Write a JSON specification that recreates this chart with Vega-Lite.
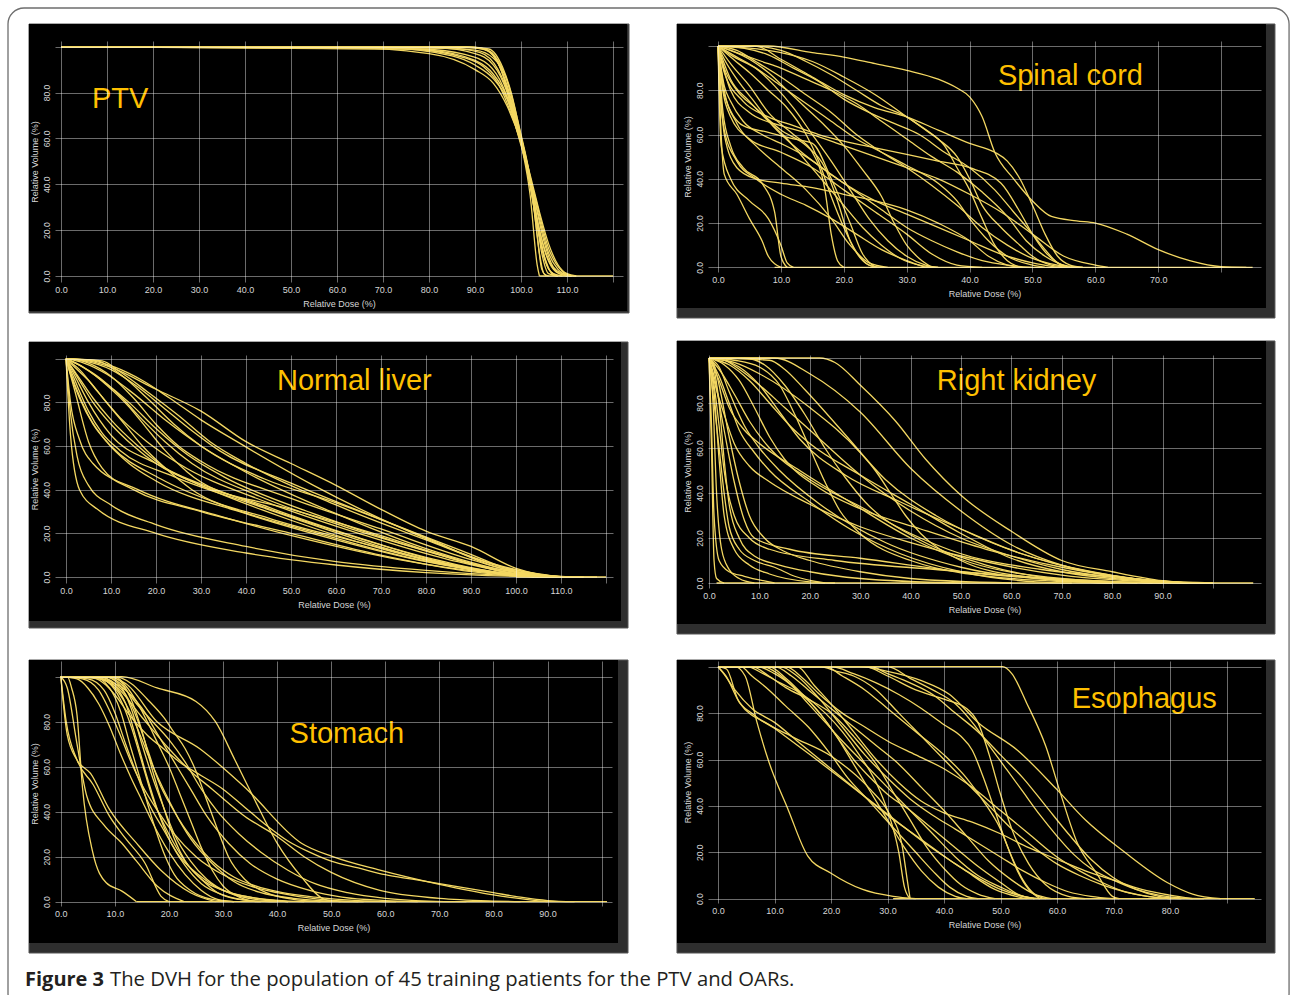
{
"$schema":"https://vega.github.io/schema/vega-lite/v6.json",
"background":"white",
"padding":{"left":7,"top":7,"right":0,"bottom":0},
"autosize":{"type":"pad"},
"columns":2,
"align":"each",
"bounds":"flush",
"spacing":{"row":73,"column":85},
"config":{
"view":{"stroke":null},
"axis":{"domain":false,"ticks":false,"grid":true,"gridColor":"#ffffff","gridOpacity":0.42,"gridWidth":1,"labelColor":"#d6d6d6","labelFont":"Liberation Sans","labelFontSize":9,"titleColor":"#d6d6d6","titleFont":"Liberation Sans","titleFontSize":9,"titleFontWeight":"normal","labelOverlap":false,"labelFlush":false,"labelBound":false},
"axisX":{"labelPadding":3,"titlePadding":5},
"axisY":{"labelAngle":270,"labelAlign":"center","labelBaseline":"bottom","labelPadding":4,"titlePadding":3,"labelFontSize":8.5},
"line":{"interpolate":"monotone","color":"#f4d862","strokeWidth":1.3}
},
"datasets":{
"one":[{}],
"ptv":[
{"c":0,"x":104,"y":0},{"c":0,"x":120,"y":0},
{"c":1,"x":0,"y":100},{"c":1,"x":60,"y":100},{"c":1,"x":80,"y":99.5},{"c":1,"x":90,"y":98.5},{"c":1,"x":94,"y":95},{"c":1,"x":97,"y":85},{"c":1,"x":100,"y":58},{"c":1,"x":102,"y":35},{"c":1,"x":103.5,"y":5},{"c":1,"x":104,"y":0},
{"c":2,"x":0,"y":100},{"c":2,"x":60,"y":99.8},{"c":2,"x":80,"y":97},{"c":2,"x":90,"y":90},{"c":2,"x":94,"y":84},{"c":2,"x":97,"y":74},{"c":2,"x":100,"y":58},{"c":2,"x":102.5,"y":38},{"c":2,"x":104.5,"y":10},{"c":2,"x":106,"y":1},{"c":2,"x":108,"y":0},
{"c":3,"x":0,"y":100},{"c":3,"x":70,"y":99.5},{"c":3,"x":85,"y":96},{"c":3,"x":90,"y":92},{"c":3,"x":94,"y":86},{"c":3,"x":97,"y":77},{"c":3,"x":100,"y":57},{"c":3,"x":103,"y":35},{"c":3,"x":106,"y":12},{"c":3,"x":109,"y":2},{"c":3,"x":111,"y":0},
{"c":4,"x":0,"y":100},{"c":4,"x":80,"y":99.8},{"c":4,"x":90,"y":99.5},{"c":4,"x":93,"y":98},{"c":4,"x":96,"y":88},{"c":4,"x":98,"y":72},{"c":4,"x":100,"y":58},{"c":4,"x":102,"y":40},{"c":4,"x":104,"y":18},{"c":4,"x":106,"y":3},{"c":4,"x":108,"y":0},
{"c":5,"x":0,"y":100},{"c":5,"x":85,"y":100},{"c":5,"x":91,"y":99.5},{"c":5,"x":94,"y":96},{"c":5,"x":97,"y":82},{"c":5,"x":99,"y":66},{"c":5,"x":101,"y":50},{"c":5,"x":103,"y":28},{"c":5,"x":105,"y":8},{"c":5,"x":107,"y":1},{"c":5,"x":109,"y":0},
{"c":6,"x":0,"y":100},{"c":6,"x":75,"y":99},{"c":6,"x":88,"y":95},{"c":6,"x":92,"y":91},{"c":6,"x":95,"y":84},{"c":6,"x":98,"y":70},{"c":6,"x":100,"y":58},{"c":6,"x":102,"y":42},{"c":6,"x":104,"y":25},{"c":6,"x":106,"y":10},{"c":6,"x":108,"y":3},{"c":6,"x":110,"y":0.5},{"c":6,"x":112,"y":0},
{"c":7,"x":0,"y":100},{"c":7,"x":88,"y":100},{"c":7,"x":92,"y":99},{"c":7,"x":95,"y":93},{"c":7,"x":97,"y":83},{"c":7,"x":99,"y":68},{"c":7,"x":101,"y":52},{"c":7,"x":102.5,"y":35},{"c":7,"x":104,"y":10},{"c":7,"x":105,"y":1},{"c":7,"x":106,"y":0},
{"c":8,"x":0,"y":100},{"c":8,"x":82,"y":99.5},{"c":8,"x":90,"y":97},{"c":8,"x":94,"y":92},{"c":8,"x":97,"y":80},{"c":8,"x":99.5,"y":62},{"c":8,"x":101.5,"y":45},{"c":8,"x":103.5,"y":22},{"c":8,"x":105.5,"y":6},{"c":8,"x":107,"y":0.5},{"c":8,"x":108,"y":0},
{"c":9,"x":0,"y":100},{"c":9,"x":86,"y":99.8},{"c":9,"x":92,"y":99},{"c":9,"x":95,"y":94},{"c":9,"x":97.5,"y":82},{"c":9,"x":99.5,"y":66},{"c":9,"x":101,"y":53},{"c":9,"x":103,"y":33},{"c":9,"x":105,"y":15},{"c":9,"x":107,"y":4},{"c":9,"x":109,"y":1},{"c":9,"x":111,"y":0},
{"c":10,"x":0,"y":100},{"c":10,"x":65,"y":99.8},{"c":10,"x":80,"y":98.5},{"c":10,"x":90,"y":94},{"c":10,"x":94,"y":88},{"c":10,"x":97,"y":78},{"c":10,"x":100,"y":59},{"c":10,"x":102,"y":44},{"c":10,"x":104,"y":28},{"c":10,"x":106,"y":14},{"c":10,"x":108,"y":5},{"c":10,"x":110,"y":1},{"c":10,"x":112,"y":0},
{"c":11,"x":0,"y":100},{"c":11,"x":84,"y":99.5},{"c":11,"x":91,"y":97.5},{"c":11,"x":95,"y":90},{"c":11,"x":98,"y":75},{"c":11,"x":100,"y":59},{"c":11,"x":102,"y":40},{"c":11,"x":104,"y":20},{"c":11,"x":106,"y":7},{"c":11,"x":108,"y":1.5},{"c":11,"x":110,"y":0},
{"c":12,"x":0,"y":100},{"c":12,"x":78,"y":99},{"c":12,"x":88,"y":96.5},{"c":12,"x":93,"y":92},{"c":12,"x":96,"y":83},{"c":12,"x":99,"y":65},{"c":12,"x":101,"y":51},{"c":12,"x":103,"y":30},{"c":12,"x":105,"y":12},{"c":12,"x":107,"y":3},{"c":12,"x":109,"y":0.5},{"c":12,"x":111,"y":0},
{"c":13,"x":0,"y":100},{"c":13,"x":89,"y":99.8},{"c":13,"x":93,"y":99},{"c":13,"x":96,"y":91},{"c":13,"x":98,"y":79},{"c":13,"x":100,"y":61},{"c":13,"x":102,"y":42},{"c":13,"x":103.5,"y":18},{"c":13,"x":104.5,"y":3},{"c":13,"x":105.5,"y":0}
],
"sc":[
{"c":0,"x":9,"y":0},{"c":0,"x":85,"y":0},
{"c":1,"x":0,"y":100},{"c":1,"x":0.5,"y":60},{"c":1,"x":1,"y":42},{"c":1,"x":3,"y":33},{"c":1,"x":5,"y":22},{"c":1,"x":7,"y":12},{"c":1,"x":8,"y":5},{"c":1,"x":10,"y":0},
{"c":2,"x":0,"y":100},{"c":2,"x":0.8,"y":70},{"c":2,"x":2,"y":55},{"c":2,"x":4,"y":45},{"c":2,"x":7,"y":38},{"c":2,"x":9,"y":25},{"c":2,"x":10,"y":5},{"c":2,"x":11,"y":0},
{"c":3,"x":0,"y":100},{"c":3,"x":1,"y":80},{"c":3,"x":3,"y":65},{"c":3,"x":6,"y":55},{"c":3,"x":10,"y":45},{"c":3,"x":14,"y":35},{"c":3,"x":18,"y":22},{"c":3,"x":21,"y":10},{"c":3,"x":24,"y":2},{"c":3,"x":27,"y":0},
{"c":4,"x":0,"y":100},{"c":4,"x":0.5,"y":85},{"c":4,"x":2,"y":68},{"c":4,"x":5,"y":58},{"c":4,"x":10,"y":52},{"c":4,"x":15,"y":45},{"c":4,"x":20,"y":35},{"c":4,"x":25,"y":25},{"c":4,"x":30,"y":15},{"c":4,"x":34,"y":6},{"c":4,"x":38,"y":1},{"c":4,"x":42,"y":0},
{"c":5,"x":0,"y":100},{"c":5,"x":1,"y":90},{"c":5,"x":3,"y":80},{"c":5,"x":6,"y":72},{"c":5,"x":10,"y":62},{"c":5,"x":14,"y":55},{"c":5,"x":17,"y":45},{"c":5,"x":19,"y":30},{"c":5,"x":21,"y":12},{"c":5,"x":23,"y":3},{"c":5,"x":25,"y":0},
{"c":6,"x":0,"y":100},{"c":6,"x":2,"y":92},{"c":6,"x":5,"y":82},{"c":6,"x":8,"y":70},{"c":6,"x":12,"y":60},{"c":6,"x":15,"y":52},{"c":6,"x":17,"y":35},{"c":6,"x":18,"y":15},{"c":6,"x":19,"y":3},{"c":6,"x":20,"y":0},
{"c":7,"x":0,"y":100},{"c":7,"x":2,"y":95},{"c":7,"x":5,"y":88},{"c":7,"x":8,"y":80},{"c":7,"x":11,"y":72},{"c":7,"x":14,"y":60},{"c":7,"x":16,"y":48},{"c":7,"x":18,"y":32},{"c":7,"x":20,"y":18},{"c":7,"x":22,"y":7},{"c":7,"x":24,"y":1},{"c":7,"x":26,"y":0},
{"c":8,"x":0,"y":100},{"c":8,"x":3,"y":98},{"c":8,"x":6,"y":93},{"c":8,"x":10,"y":86},{"c":8,"x":14,"y":78},{"c":8,"x":18,"y":70},{"c":8,"x":22,"y":60},{"c":8,"x":26,"y":52},{"c":8,"x":30,"y":45},{"c":8,"x":34,"y":37},{"c":8,"x":38,"y":28},{"c":8,"x":42,"y":18},{"c":8,"x":46,"y":10},{"c":8,"x":50,"y":4},{"c":8,"x":56,"y":0},
{"c":9,"x":0,"y":100},{"c":9,"x":4,"y":99},{"c":9,"x":8,"y":96},{"c":9,"x":12,"y":90},{"c":9,"x":16,"y":84},{"c":9,"x":20,"y":76},{"c":9,"x":24,"y":70},{"c":9,"x":28,"y":65},{"c":9,"x":32,"y":60},{"c":9,"x":36,"y":52},{"c":9,"x":40,"y":45},{"c":9,"x":44,"y":35},{"c":9,"x":47,"y":25},{"c":9,"x":50,"y":15},{"c":9,"x":52,"y":8},{"c":9,"x":54,"y":2},{"c":9,"x":56,"y":0},
{"c":10,"x":0,"y":100},{"c":10,"x":8,"y":100},{"c":10,"x":15,"y":97},{"c":10,"x":20,"y":95},{"c":10,"x":25,"y":92},{"c":10,"x":30,"y":89},{"c":10,"x":35,"y":85},{"c":10,"x":38,"y":81},{"c":10,"x":40,"y":77},{"c":10,"x":42,"y":68},{"c":10,"x":44,"y":52},{"c":10,"x":47,"y":40},{"c":10,"x":50,"y":30},{"c":10,"x":53,"y":23},{"c":10,"x":57,"y":21},{"c":10,"x":60,"y":20},{"c":10,"x":65,"y":15},{"c":10,"x":70,"y":8},{"c":10,"x":75,"y":3},{"c":10,"x":80,"y":0.3},{"c":10,"x":84,"y":0},
{"c":11,"x":0,"y":100},{"c":11,"x":5,"y":99},{"c":11,"x":10,"y":97},{"c":11,"x":15,"y":93},{"c":11,"x":20,"y":86},{"c":11,"x":25,"y":78},{"c":11,"x":30,"y":68},{"c":11,"x":35,"y":58},{"c":11,"x":38,"y":50},{"c":11,"x":40,"y":40},{"c":11,"x":42,"y":28},{"c":11,"x":45,"y":18},{"c":11,"x":48,"y":10},{"c":11,"x":50,"y":5},{"c":11,"x":53,"y":1},{"c":11,"x":56,"y":0},
{"c":12,"x":0,"y":100},{"c":12,"x":6,"y":100},{"c":12,"x":10,"y":94},{"c":12,"x":15,"y":86},{"c":12,"x":20,"y":78},{"c":12,"x":25,"y":72},{"c":12,"x":30,"y":68},{"c":12,"x":35,"y":62},{"c":12,"x":40,"y":56},{"c":12,"x":44,"y":52},{"c":12,"x":46,"y":48},{"c":12,"x":48,"y":40},{"c":12,"x":50,"y":28},{"c":12,"x":52,"y":15},{"c":12,"x":54,"y":5},{"c":12,"x":56,"y":1},{"c":12,"x":58,"y":0},
{"c":13,"x":0,"y":100},{"c":13,"x":1,"y":88},{"c":13,"x":4,"y":75},{"c":13,"x":8,"y":68},{"c":13,"x":12,"y":64},{"c":13,"x":16,"y":60},{"c":13,"x":20,"y":57},{"c":13,"x":25,"y":54},{"c":13,"x":30,"y":51},{"c":13,"x":35,"y":48},{"c":13,"x":40,"y":45},{"c":13,"x":45,"y":38},{"c":13,"x":48,"y":25},{"c":13,"x":50,"y":15},{"c":13,"x":52,"y":7},{"c":13,"x":54,"y":2},{"c":13,"x":56,"y":0},
{"c":14,"x":0,"y":100},{"c":14,"x":2,"y":80},{"c":14,"x":5,"y":70},{"c":14,"x":10,"y":64},{"c":14,"x":15,"y":60},{"c":14,"x":20,"y":55},{"c":14,"x":25,"y":50},{"c":14,"x":30,"y":45},{"c":14,"x":35,"y":40},{"c":14,"x":40,"y":33},{"c":14,"x":45,"y":25},{"c":14,"x":50,"y":15},{"c":14,"x":55,"y":5},{"c":14,"x":60,"y":1},{"c":14,"x":62,"y":0},
{"c":15,"x":0,"y":100},{"c":15,"x":1,"y":60},{"c":15,"x":3,"y":45},{"c":15,"x":6,"y":40},{"c":15,"x":10,"y":38},{"c":15,"x":15,"y":36},{"c":15,"x":20,"y":33},{"c":15,"x":25,"y":30},{"c":15,"x":30,"y":26},{"c":15,"x":35,"y":20},{"c":15,"x":40,"y":12},{"c":15,"x":43,"y":5},{"c":15,"x":46,"y":1},{"c":15,"x":48,"y":0},
{"c":16,"x":0,"y":100},{"c":16,"x":2,"y":85},{"c":16,"x":5,"y":75},{"c":16,"x":8,"y":66},{"c":16,"x":11,"y":58},{"c":16,"x":14,"y":48},{"c":16,"x":17,"y":38},{"c":16,"x":20,"y":28},{"c":16,"x":23,"y":18},{"c":16,"x":26,"y":10},{"c":16,"x":29,"y":4},{"c":16,"x":32,"y":1},{"c":16,"x":35,"y":0},
{"c":17,"x":0,"y":100},{"c":17,"x":3,"y":95},{"c":17,"x":6,"y":90},{"c":17,"x":9,"y":82},{"c":17,"x":12,"y":72},{"c":17,"x":15,"y":60},{"c":17,"x":18,"y":48},{"c":17,"x":21,"y":35},{"c":17,"x":24,"y":22},{"c":17,"x":27,"y":12},{"c":17,"x":30,"y":5},{"c":17,"x":33,"y":1},{"c":17,"x":35,"y":0},
{"c":18,"x":0,"y":100},{"c":18,"x":5,"y":100},{"c":18,"x":10,"y":98},{"c":18,"x":14,"y":93},{"c":18,"x":18,"y":87},{"c":18,"x":22,"y":80},{"c":18,"x":26,"y":73},{"c":18,"x":30,"y":68},{"c":18,"x":33,"y":62},{"c":18,"x":36,"y":55},{"c":18,"x":38,"y":45},{"c":18,"x":40,"y":35},{"c":18,"x":42,"y":22},{"c":18,"x":44,"y":10},{"c":18,"x":46,"y":3},{"c":18,"x":48,"y":0},
{"c":19,"x":0,"y":100},{"c":19,"x":2,"y":96},{"c":19,"x":6,"y":90},{"c":19,"x":10,"y":82},{"c":19,"x":14,"y":74},{"c":19,"x":18,"y":66},{"c":19,"x":22,"y":58},{"c":19,"x":26,"y":52},{"c":19,"x":30,"y":46},{"c":19,"x":35,"y":38},{"c":19,"x":38,"y":30},{"c":19,"x":40,"y":22},{"c":19,"x":43,"y":12},{"c":19,"x":46,"y":5},{"c":19,"x":50,"y":1},{"c":19,"x":52,"y":0},
{"c":20,"x":0,"y":100},{"c":20,"x":1,"y":94},{"c":20,"x":3,"y":85},{"c":20,"x":6,"y":74},{"c":20,"x":9,"y":63},{"c":20,"x":12,"y":55},{"c":20,"x":16,"y":46},{"c":20,"x":20,"y":38},{"c":20,"x":25,"y":30},{"c":20,"x":30,"y":24},{"c":20,"x":35,"y":18},{"c":20,"x":40,"y":12},{"c":20,"x":45,"y":6},{"c":20,"x":50,"y":2},{"c":20,"x":54,"y":0},
{"c":21,"x":0,"y":100},{"c":21,"x":2,"y":98},{"c":21,"x":5,"y":94},{"c":21,"x":8,"y":88},{"c":21,"x":11,"y":80},{"c":21,"x":14,"y":72},{"c":21,"x":17,"y":64},{"c":21,"x":20,"y":55},{"c":21,"x":23,"y":44},{"c":21,"x":26,"y":32},{"c":21,"x":28,"y":20},{"c":21,"x":30,"y":10},{"c":21,"x":32,"y":4},{"c":21,"x":34,"y":0},
{"c":22,"x":0,"y":100},{"c":22,"x":1,"y":78},{"c":22,"x":4,"y":64},{"c":22,"x":8,"y":61},{"c":22,"x":12,"y":58},{"c":22,"x":15,"y":56},{"c":22,"x":18,"y":40},{"c":22,"x":21,"y":20},{"c":22,"x":23,"y":6},{"c":22,"x":25,"y":0},
{"c":23,"x":0,"y":100},{"c":23,"x":3,"y":97},{"c":23,"x":7,"y":93},{"c":23,"x":10,"y":90},{"c":23,"x":14,"y":85},{"c":23,"x":18,"y":80},{"c":23,"x":22,"y":74},{"c":23,"x":26,"y":66},{"c":23,"x":30,"y":58},{"c":23,"x":34,"y":50},{"c":23,"x":38,"y":43},{"c":23,"x":42,"y":34},{"c":23,"x":46,"y":23},{"c":23,"x":49,"y":12},{"c":23,"x":52,"y":5},{"c":23,"x":55,"y":1},{"c":23,"x":58,"y":0},
{"c":24,"x":0,"y":100},{"c":24,"x":1,"y":82},{"c":24,"x":2,"y":75},{"c":24,"x":4,"y":66},{"c":24,"x":7,"y":60},{"c":24,"x":10,"y":56},{"c":24,"x":14,"y":50},{"c":24,"x":18,"y":42},{"c":24,"x":22,"y":34},{"c":24,"x":26,"y":26},{"c":24,"x":30,"y":18},{"c":24,"x":34,"y":12},{"c":24,"x":38,"y":7},{"c":24,"x":42,"y":3},{"c":24,"x":46,"y":1},{"c":24,"x":50,"y":0},
{"c":25,"x":0,"y":100},{"c":25,"x":0.5,"y":55},{"c":25,"x":2,"y":40},{"c":25,"x":5,"y":30},{"c":25,"x":8,"y":22},{"c":25,"x":10,"y":10},{"c":25,"x":11,"y":2},{"c":25,"x":12,"y":0},
{"c":26,"x":0,"y":100},{"c":26,"x":0.3,"y":80},{"c":26,"x":1,"y":62},{"c":26,"x":3,"y":48},{"c":26,"x":6,"y":40},{"c":26,"x":10,"y":33},{"c":26,"x":14,"y":28},{"c":26,"x":18,"y":22},{"c":26,"x":22,"y":15},{"c":26,"x":26,"y":8},{"c":26,"x":30,"y":3},{"c":26,"x":33,"y":0}
],
"lv":[
{"c":0,"x":100,"y":0},{"c":0,"x":120,"y":0},
{"c":1,"x":0,"y":100},{"c":1,"x":1,"y":65},{"c":1,"x":3,"y":40},{"c":1,"x":7,"y":31},{"c":1,"x":20,"y":20},{"c":1,"x":40,"y":11},{"c":1,"x":60,"y":5.5},{"c":1,"x":80,"y":2},{"c":1,"x":100,"y":0.3},{"c":1,"x":110,"y":0},
{"c":2,"x":0,"y":100},{"c":2,"x":1,"y":75},{"c":2,"x":2.5,"y":55},{"c":2,"x":5,"y":42},{"c":2,"x":10,"y":33},{"c":2,"x":20,"y":24},{"c":2,"x":40,"y":14},{"c":2,"x":60,"y":7},{"c":2,"x":80,"y":3},{"c":2,"x":100,"y":0.5},{"c":2,"x":110,"y":0},
{"c":3,"x":0,"y":100},{"c":3,"x":2,"y":85},{"c":3,"x":5,"y":62},{"c":3,"x":8,"y":50},{"c":3,"x":15,"y":40},{"c":3,"x":30,"y":30},{"c":3,"x":50,"y":20},{"c":3,"x":70,"y":10},{"c":3,"x":90,"y":2.5},{"c":3,"x":105,"y":0.2},{"c":3,"x":115,"y":0},
{"c":4,"x":0,"y":100},{"c":4,"x":2,"y":92},{"c":4,"x":5,"y":80},{"c":4,"x":10,"y":65},{"c":4,"x":20,"y":52},{"c":4,"x":40,"y":35},{"c":4,"x":60,"y":21},{"c":4,"x":80,"y":9},{"c":4,"x":100,"y":1},{"c":4,"x":110,"y":0},
{"c":5,"x":0,"y":100},{"c":5,"x":3,"y":95},{"c":5,"x":7,"y":85},{"c":5,"x":12,"y":73},{"c":5,"x":18,"y":62},{"c":5,"x":25,"y":52},{"c":5,"x":45,"y":34},{"c":5,"x":65,"y":20},{"c":5,"x":85,"y":8},{"c":5,"x":105,"y":0.5},{"c":5,"x":115,"y":0},
{"c":6,"x":0,"y":100},{"c":6,"x":5,"y":99},{"c":6,"x":10,"y":96},{"c":6,"x":20,"y":86},{"c":6,"x":30,"y":76},{"c":6,"x":40,"y":62},{"c":6,"x":50,"y":52},{"c":6,"x":60,"y":42},{"c":6,"x":70,"y":31},{"c":6,"x":80,"y":21},{"c":6,"x":90,"y":14},{"c":6,"x":100,"y":4},{"c":6,"x":110,"y":0.2},{"c":6,"x":118,"y":0},
{"c":7,"x":0,"y":100},{"c":7,"x":4,"y":98},{"c":7,"x":9,"y":93},{"c":7,"x":15,"y":84},{"c":7,"x":22,"y":72},{"c":7,"x":30,"y":60},{"c":7,"x":40,"y":48},{"c":7,"x":60,"y":29},{"c":7,"x":80,"y":13},{"c":7,"x":100,"y":2},{"c":7,"x":108,"y":0},
{"c":8,"x":0,"y":100},{"c":8,"x":3,"y":97},{"c":8,"x":8,"y":90},{"c":8,"x":14,"y":80},{"c":8,"x":20,"y":68},{"c":8,"x":27,"y":56},{"c":8,"x":35,"y":46},{"c":8,"x":55,"y":29},{"c":8,"x":75,"y":15},{"c":8,"x":95,"y":4},{"c":8,"x":110,"y":0},
{"c":9,"x":0,"y":100},{"c":9,"x":2,"y":94},{"c":9,"x":6,"y":82},{"c":9,"x":10,"y":72},{"c":9,"x":16,"y":60},{"c":9,"x":22,"y":50},{"c":9,"x":30,"y":42},{"c":9,"x":50,"y":26},{"c":9,"x":70,"y":13},{"c":9,"x":90,"y":3.5},{"c":9,"x":105,"y":0},
{"c":10,"x":0,"y":100},{"c":10,"x":5,"y":98},{"c":10,"x":10,"y":92},{"c":10,"x":15,"y":82},{"c":10,"x":20,"y":70},{"c":10,"x":25,"y":60},{"c":10,"x":30,"y":53},{"c":10,"x":50,"y":36},{"c":10,"x":70,"y":22},{"c":10,"x":90,"y":8},{"c":10,"x":105,"y":0.5},{"c":10,"x":112,"y":0},
{"c":11,"x":0,"y":100},{"c":11,"x":8,"y":99},{"c":11,"x":12,"y":94},{"c":11,"x":18,"y":85},{"c":11,"x":25,"y":74},{"c":11,"x":32,"y":62},{"c":11,"x":40,"y":52},{"c":11,"x":60,"y":33},{"c":11,"x":80,"y":17},{"c":11,"x":98,"y":4},{"c":11,"x":110,"y":0},
{"c":12,"x":0,"y":100},{"c":12,"x":3,"y":90},{"c":12,"x":6,"y":80},{"c":12,"x":10,"y":70},{"c":12,"x":15,"y":60},{"c":12,"x":20,"y":52},{"c":12,"x":30,"y":42},{"c":12,"x":50,"y":31},{"c":12,"x":70,"y":19},{"c":12,"x":90,"y":6},{"c":12,"x":104,"y":0.3},{"c":12,"x":110,"y":0},
{"c":13,"x":0,"y":100},{"c":13,"x":2,"y":88},{"c":13,"x":5,"y":74},{"c":13,"x":9,"y":62},{"c":13,"x":14,"y":52},{"c":13,"x":20,"y":44},{"c":13,"x":40,"y":29},{"c":13,"x":60,"y":17},{"c":13,"x":80,"y":7},{"c":13,"x":98,"y":1},{"c":13,"x":104,"y":0},
{"c":14,"x":0,"y":100},{"c":14,"x":4,"y":96},{"c":14,"x":9,"y":88},{"c":14,"x":14,"y":78},{"c":14,"x":18,"y":68},{"c":14,"x":22,"y":58},{"c":14,"x":27,"y":48},{"c":14,"x":45,"y":32},{"c":14,"x":65,"y":18},{"c":14,"x":85,"y":6},{"c":14,"x":103,"y":0.3},{"c":14,"x":108,"y":0},
{"c":15,"x":0,"y":100},{"c":15,"x":6,"y":99},{"c":15,"x":11,"y":96},{"c":15,"x":17,"y":90},{"c":15,"x":23,"y":82},{"c":15,"x":30,"y":72},{"c":15,"x":38,"y":62},{"c":15,"x":55,"y":42},{"c":15,"x":75,"y":22},{"c":15,"x":95,"y":6},{"c":15,"x":108,"y":0.5},{"c":15,"x":115,"y":0},
{"c":16,"x":0,"y":100},{"c":16,"x":2,"y":90},{"c":16,"x":5,"y":76},{"c":16,"x":8,"y":66},{"c":16,"x":12,"y":58},{"c":16,"x":24,"y":46},{"c":16,"x":42,"y":33},{"c":16,"x":62,"y":19},{"c":16,"x":82,"y":7},{"c":16,"x":100,"y":1},{"c":16,"x":108,"y":0},
{"c":17,"x":0,"y":100},{"c":17,"x":3,"y":97},{"c":17,"x":7,"y":92},{"c":17,"x":12,"y":83},{"c":17,"x":17,"y":72},{"c":17,"x":22,"y":62},{"c":17,"x":28,"y":52},{"c":17,"x":43,"y":37},{"c":17,"x":62,"y":23},{"c":17,"x":82,"y":11},{"c":17,"x":100,"y":1.5},{"c":17,"x":112,"y":0},
{"c":18,"x":0,"y":100},{"c":18,"x":7,"y":99},{"c":18,"x":12,"y":93},{"c":18,"x":18,"y":82},{"c":18,"x":24,"y":70},{"c":18,"x":30,"y":60},{"c":18,"x":44,"y":45},{"c":18,"x":60,"y":34},{"c":18,"x":80,"y":18},{"c":18,"x":95,"y":5},{"c":18,"x":108,"y":0},
{"c":19,"x":0,"y":100},{"c":19,"x":1,"y":80},{"c":19,"x":3,"y":63},{"c":19,"x":6,"y":52},{"c":19,"x":16,"y":40},{"c":19,"x":34,"y":28},{"c":19,"x":54,"y":17},{"c":19,"x":74,"y":8},{"c":19,"x":94,"y":2},{"c":19,"x":110,"y":0},
{"c":20,"x":0,"y":100},{"c":20,"x":2,"y":96},{"c":20,"x":5,"y":90},{"c":20,"x":9,"y":80},{"c":20,"x":13,"y":70},{"c":20,"x":17,"y":60},{"c":20,"x":22,"y":50},{"c":20,"x":28,"y":40},{"c":20,"x":45,"y":27},{"c":20,"x":65,"y":16},{"c":20,"x":85,"y":6},{"c":20,"x":103,"y":0.5},{"c":20,"x":110,"y":0},
{"c":21,"x":0,"y":100},{"c":21,"x":4,"y":99},{"c":21,"x":10,"y":95},{"c":21,"x":16,"y":87},{"c":21,"x":22,"y":77},{"c":21,"x":28,"y":67},{"c":21,"x":34,"y":58},{"c":21,"x":50,"y":43},{"c":21,"x":68,"y":28},{"c":21,"x":88,"y":12},{"c":21,"x":102,"y":1.5},{"c":21,"x":110,"y":0},
{"c":22,"x":0,"y":100},{"c":22,"x":1,"y":93},{"c":22,"x":3,"y":82},{"c":22,"x":6,"y":70},{"c":22,"x":10,"y":60},{"c":22,"x":21,"y":45},{"c":22,"x":36,"y":32},{"c":22,"x":56,"y":20},{"c":22,"x":76,"y":9},{"c":22,"x":96,"y":2},{"c":22,"x":112,"y":0}
],
"rk":[
{"c":0,"x":1.5,"y":0},{"c":0,"x":108,"y":0},
{"c":1,"x":0,"y":100},{"c":1,"x":0.5,"y":60},{"c":1,"x":1,"y":10},{"c":1,"x":1.5,"y":2},{"c":1,"x":3,"y":0},
{"c":2,"x":0,"y":100},{"c":2,"x":0.8,"y":80},{"c":2,"x":1.5,"y":40},{"c":2,"x":2.5,"y":15},{"c":2,"x":4,"y":6},{"c":2,"x":6,"y":2},{"c":2,"x":9,"y":0},
{"c":3,"x":0,"y":100},{"c":3,"x":1,"y":85},{"c":3,"x":2,"y":55},{"c":3,"x":3,"y":30},{"c":3,"x":5,"y":15},{"c":3,"x":8,"y":8},{"c":3,"x":12,"y":4},{"c":3,"x":20,"y":0.5},{"c":3,"x":25,"y":0},
{"c":4,"x":0,"y":100},{"c":4,"x":1,"y":95},{"c":4,"x":2,"y":80},{"c":4,"x":3,"y":55},{"c":4,"x":4,"y":35},{"c":4,"x":6,"y":20},{"c":4,"x":9,"y":12},{"c":4,"x":14,"y":8},{"c":4,"x":20,"y":5},{"c":4,"x":30,"y":2},{"c":4,"x":50,"y":0},
{"c":5,"x":0,"y":100},{"c":5,"x":1,"y":97},{"c":5,"x":2,"y":88},{"c":5,"x":4,"y":65},{"c":5,"x":6,"y":45},{"c":5,"x":8,"y":30},{"c":5,"x":11,"y":20},{"c":5,"x":15,"y":14},{"c":5,"x":20,"y":10},{"c":5,"x":30,"y":5},{"c":5,"x":40,"y":2},{"c":5,"x":60,"y":0},
{"c":6,"x":0,"y":100},{"c":6,"x":2,"y":96},{"c":6,"x":4,"y":85},{"c":6,"x":7,"y":70},{"c":6,"x":10,"y":60},{"c":6,"x":14,"y":50},{"c":6,"x":22,"y":35},{"c":6,"x":35,"y":18},{"c":6,"x":50,"y":7},{"c":6,"x":70,"y":1},{"c":6,"x":80,"y":0},
{"c":7,"x":0,"y":100},{"c":7,"x":13,"y":100},{"c":7,"x":20,"y":93},{"c":7,"x":30,"y":76},{"c":7,"x":40,"y":51},{"c":7,"x":50,"y":32},{"c":7,"x":60,"y":17},{"c":7,"x":70,"y":8},{"c":7,"x":80,"y":3.4},{"c":7,"x":90,"y":0.7},{"c":7,"x":95,"y":0},
{"c":8,"x":0,"y":100},{"c":8,"x":22,"y":100},{"c":8,"x":25,"y":98},{"c":8,"x":30,"y":88},{"c":8,"x":37,"y":72},{"c":8,"x":43,"y":55},{"c":8,"x":50,"y":39},{"c":8,"x":60,"y":23},{"c":8,"x":70,"y":10},{"c":8,"x":80,"y":5},{"c":8,"x":90,"y":1},{"c":8,"x":95,"y":0},
{"c":9,"x":0,"y":100},{"c":9,"x":3,"y":99},{"c":9,"x":6,"y":95},{"c":9,"x":10,"y":88},{"c":9,"x":15,"y":78},{"c":9,"x":20,"y":68},{"c":9,"x":30,"y":48},{"c":9,"x":40,"y":32},{"c":9,"x":50,"y":20},{"c":9,"x":60,"y":12},{"c":9,"x":70,"y":6},{"c":9,"x":80,"y":2.5},{"c":9,"x":95,"y":0},
{"c":10,"x":0,"y":100},{"c":10,"x":4,"y":97},{"c":10,"x":8,"y":90},{"c":10,"x":12,"y":80},{"c":10,"x":16,"y":70},{"c":10,"x":20,"y":62},{"c":10,"x":30,"y":48},{"c":10,"x":40,"y":35},{"c":10,"x":50,"y":22},{"c":10,"x":60,"y":11},{"c":10,"x":70,"y":5},{"c":10,"x":80,"y":2},{"c":10,"x":100,"y":0},
{"c":11,"x":0,"y":100},{"c":11,"x":2,"y":90},{"c":11,"x":4,"y":78},{"c":11,"x":7,"y":68},{"c":11,"x":10,"y":62},{"c":11,"x":18,"y":50},{"c":11,"x":28,"y":36},{"c":11,"x":40,"y":20},{"c":11,"x":52,"y":9},{"c":11,"x":70,"y":2},{"c":11,"x":88,"y":0},
{"c":12,"x":0,"y":100},{"c":12,"x":5,"y":99},{"c":12,"x":10,"y":96},{"c":12,"x":14,"y":88},{"c":12,"x":17,"y":75},{"c":12,"x":20,"y":60},{"c":12,"x":23,"y":45},{"c":12,"x":26,"y":32},{"c":12,"x":30,"y":22},{"c":12,"x":40,"y":10},{"c":12,"x":60,"y":2},{"c":12,"x":80,"y":0},
{"c":13,"x":0,"y":100},{"c":13,"x":7,"y":100},{"c":13,"x":11,"y":97},{"c":13,"x":15,"y":88},{"c":13,"x":19,"y":75},{"c":13,"x":23,"y":60},{"c":13,"x":27,"y":47},{"c":13,"x":31,"y":36},{"c":13,"x":42,"y":19},{"c":13,"x":55,"y":8},{"c":13,"x":70,"y":1.5},{"c":13,"x":85,"y":0},
{"c":14,"x":0,"y":100},{"c":14,"x":1,"y":90},{"c":14,"x":3,"y":75},{"c":14,"x":5,"y":62},{"c":14,"x":8,"y":52},{"c":14,"x":12,"y":45},{"c":14,"x":20,"y":35},{"c":14,"x":30,"y":25},{"c":14,"x":40,"y":18},{"c":14,"x":50,"y":12},{"c":14,"x":70,"y":3.5},{"c":14,"x":90,"y":0.4},{"c":14,"x":100,"y":0},
{"c":15,"x":0,"y":100},{"c":15,"x":2,"y":92},{"c":15,"x":4,"y":80},{"c":15,"x":6,"y":68},{"c":15,"x":9,"y":58},{"c":15,"x":12,"y":50},{"c":15,"x":20,"y":36},{"c":15,"x":28,"y":24},{"c":15,"x":38,"y":13},{"c":15,"x":50,"y":5},{"c":15,"x":65,"y":0.5},{"c":15,"x":72,"y":0},
{"c":16,"x":0,"y":100},{"c":16,"x":1,"y":88},{"c":16,"x":2,"y":70},{"c":16,"x":3,"y":50},{"c":16,"x":5,"y":30},{"c":16,"x":8,"y":20},{"c":16,"x":12,"y":15},{"c":16,"x":25,"y":10},{"c":16,"x":45,"y":6},{"c":16,"x":65,"y":2.5},{"c":16,"x":85,"y":0.3},{"c":16,"x":95,"y":0},
{"c":17,"x":0,"y":100},{"c":17,"x":1,"y":92},{"c":17,"x":3,"y":68},{"c":17,"x":5,"y":45},{"c":17,"x":7,"y":28},{"c":17,"x":9,"y":20},{"c":17,"x":16,"y":15},{"c":17,"x":30,"y":11},{"c":17,"x":50,"y":5},{"c":17,"x":70,"y":1.5},{"c":17,"x":90,"y":0},
{"c":18,"x":0,"y":100},{"c":18,"x":3,"y":97},{"c":18,"x":6,"y":90},{"c":18,"x":9,"y":78},{"c":18,"x":12,"y":65},{"c":18,"x":15,"y":55},{"c":18,"x":22,"y":42},{"c":18,"x":30,"y":33},{"c":18,"x":42,"y":24},{"c":18,"x":55,"y":15},{"c":18,"x":70,"y":7},{"c":18,"x":86,"y":1.5},{"c":18,"x":98,"y":0},
{"c":19,"x":0,"y":100},{"c":19,"x":5,"y":98},{"c":19,"x":10,"y":93},{"c":19,"x":20,"y":78},{"c":19,"x":30,"y":58},{"c":19,"x":33,"y":50},{"c":19,"x":36,"y":40},{"c":19,"x":39,"y":30},{"c":19,"x":42,"y":22},{"c":19,"x":50,"y":10},{"c":19,"x":62,"y":3},{"c":19,"x":80,"y":0},
{"c":20,"x":0,"y":100},{"c":20,"x":2,"y":95},{"c":20,"x":5,"y":84},{"c":20,"x":8,"y":72},{"c":20,"x":12,"y":60},{"c":20,"x":20,"y":46},{"c":20,"x":30,"y":34},{"c":20,"x":40,"y":22},{"c":20,"x":50,"y":13},{"c":20,"x":66,"y":6},{"c":20,"x":82,"y":2.5},{"c":20,"x":94,"y":0.2},{"c":20,"x":100,"y":0},
{"c":21,"x":0,"y":100},{"c":21,"x":0.5,"y":70},{"c":21,"x":1,"y":30},{"c":21,"x":2,"y":10},{"c":21,"x":4,"y":5},{"c":21,"x":7,"y":3},{"c":21,"x":13,"y":0},
{"c":22,"x":0,"y":100},{"c":22,"x":3,"y":99},{"c":22,"x":6,"y":96},{"c":22,"x":10,"y":88},{"c":22,"x":14,"y":76},{"c":22,"x":18,"y":64},{"c":22,"x":27,"y":48},{"c":22,"x":38,"y":36},{"c":22,"x":50,"y":24},{"c":22,"x":62,"y":13},{"c":22,"x":76,"y":5},{"c":22,"x":90,"y":0.5},{"c":22,"x":96,"y":0},
{"c":23,"x":0,"y":100},{"c":23,"x":12,"y":99},{"c":23,"x":15,"y":95},{"c":23,"x":19,"y":86},{"c":23,"x":27,"y":66},{"c":23,"x":35,"y":46},{"c":23,"x":45,"y":30},{"c":23,"x":56,"y":18},{"c":23,"x":68,"y":9},{"c":23,"x":82,"y":2.5},{"c":23,"x":94,"y":0.3},{"c":23,"x":100,"y":0},
{"c":24,"x":0,"y":100},{"c":24,"x":1,"y":80},{"c":24,"x":2,"y":60},{"c":24,"x":3,"y":40},{"c":24,"x":4,"y":25},{"c":24,"x":6,"y":15},{"c":24,"x":9,"y":10},{"c":24,"x":13,"y":7},{"c":24,"x":17,"y":3},{"c":24,"x":23,"y":0}
],
"st":[
{"c":0,"x":14,"y":0},{"c":0,"x":101,"y":0},
{"c":1,"x":0,"y":100},{"c":1,"x":1.2,"y":74},{"c":1,"x":3,"y":63},{"c":1,"x":5.5,"y":57},{"c":1,"x":9,"y":41},{"c":1,"x":14,"y":26},{"c":1,"x":18.5,"y":14},{"c":1,"x":24,"y":4},{"c":1,"x":28.6,"y":0},
{"c":2,"x":0,"y":100},{"c":2,"x":1.2,"y":100},{"c":2,"x":2,"y":95},{"c":2,"x":3,"y":83},{"c":2,"x":4,"y":51},{"c":2,"x":5.9,"y":22},{"c":2,"x":8.4,"y":8.4},{"c":2,"x":11.3,"y":4.7},{"c":2,"x":14,"y":0},
{"c":3,"x":0,"y":100},{"c":3,"x":1,"y":80},{"c":3,"x":3,"y":63},{"c":3,"x":6,"y":52},{"c":3,"x":9,"y":38},{"c":3,"x":12,"y":28},{"c":3,"x":15.6,"y":17},{"c":3,"x":18.5,"y":2.5},{"c":3,"x":20,"y":0},
{"c":4,"x":0,"y":100},{"c":4,"x":1.2,"y":95},{"c":4,"x":3,"y":70},{"c":4,"x":4.8,"y":47},{"c":4,"x":8,"y":34},{"c":4,"x":11.3,"y":26},{"c":4,"x":14,"y":18},{"c":4,"x":17.8,"y":7},{"c":4,"x":22.8,"y":0},
{"c":5,"x":0,"y":100},{"c":5,"x":11.3,"y":100},{"c":5,"x":17.8,"y":95},{"c":5,"x":25,"y":89},{"c":5,"x":28.6,"y":80},{"c":5,"x":32.2,"y":63},{"c":5,"x":35.8,"y":45.5},{"c":5,"x":40,"y":26},{"c":5,"x":44.5,"y":11},{"c":5,"x":48.8,"y":1},{"c":5,"x":51.7,"y":0},
{"c":6,"x":0,"y":100},{"c":6,"x":8,"y":100},{"c":6,"x":12,"y":97},{"c":6,"x":17.8,"y":80},{"c":6,"x":25.7,"y":68},{"c":6,"x":34.4,"y":50},{"c":6,"x":44.5,"y":26},{"c":6,"x":50.3,"y":20},{"c":6,"x":59,"y":14},{"c":6,"x":70,"y":7.7},{"c":6,"x":80,"y":3},{"c":6,"x":90,"y":0},
{"c":7,"x":0,"y":100},{"c":7,"x":5,"y":100},{"c":7,"x":10,"y":96},{"c":7,"x":15,"y":82},{"c":7,"x":20,"y":68},{"c":7,"x":24,"y":58},{"c":7,"x":28,"y":50},{"c":7,"x":34,"y":38},{"c":7,"x":40,"y":29},{"c":7,"x":45,"y":20},{"c":7,"x":50,"y":13},{"c":7,"x":59,"y":5},{"c":7,"x":70,"y":1.5},{"c":7,"x":80,"y":0.3},{"c":7,"x":85,"y":0},
{"c":8,"x":0,"y":100},{"c":8,"x":6,"y":100},{"c":8,"x":9,"y":95},{"c":8,"x":11,"y":85},{"c":8,"x":13,"y":68},{"c":8,"x":15,"y":52},{"c":8,"x":17,"y":36},{"c":8,"x":19,"y":22},{"c":8,"x":21,"y":12},{"c":8,"x":24,"y":5},{"c":8,"x":28,"y":1},{"c":8,"x":32,"y":0},
{"c":9,"x":0,"y":100},{"c":9,"x":7,"y":100},{"c":9,"x":10,"y":96},{"c":9,"x":12,"y":88},{"c":9,"x":14,"y":72},{"c":9,"x":16,"y":55},{"c":9,"x":18,"y":40},{"c":9,"x":20,"y":28},{"c":9,"x":23,"y":16},{"c":9,"x":26,"y":8},{"c":9,"x":30,"y":3},{"c":9,"x":35,"y":0.5},{"c":9,"x":40,"y":0},
{"c":10,"x":0,"y":100},{"c":10,"x":5,"y":99},{"c":10,"x":8,"y":94},{"c":10,"x":10,"y":84},{"c":10,"x":12,"y":70},{"c":10,"x":14,"y":57},{"c":10,"x":16,"y":45},{"c":10,"x":19,"y":32},{"c":10,"x":22,"y":20},{"c":10,"x":26,"y":11},{"c":10,"x":30,"y":5},{"c":10,"x":35,"y":2},{"c":10,"x":42,"y":0},
{"c":11,"x":0,"y":100},{"c":11,"x":8,"y":100},{"c":11,"x":11,"y":96},{"c":11,"x":13,"y":86},{"c":11,"x":15,"y":70},{"c":11,"x":17,"y":55},{"c":11,"x":19,"y":42},{"c":11,"x":21,"y":30},{"c":11,"x":24,"y":18},{"c":11,"x":27,"y":10},{"c":11,"x":31,"y":4},{"c":11,"x":36,"y":1},{"c":11,"x":42,"y":0},
{"c":12,"x":0,"y":100},{"c":12,"x":6,"y":100},{"c":12,"x":9,"y":97},{"c":12,"x":11,"y":90},{"c":12,"x":13,"y":78},{"c":12,"x":15,"y":62},{"c":12,"x":17,"y":46},{"c":12,"x":20,"y":30},{"c":12,"x":23,"y":18},{"c":12,"x":26,"y":10},{"c":12,"x":30,"y":5},{"c":12,"x":35,"y":2},{"c":12,"x":45,"y":0},
{"c":13,"x":0,"y":100},{"c":13,"x":9,"y":100},{"c":13,"x":11,"y":98},{"c":13,"x":13,"y":90},{"c":13,"x":15,"y":76},{"c":13,"x":17,"y":58},{"c":13,"x":19,"y":42},{"c":13,"x":21,"y":28},{"c":13,"x":23,"y":18},{"c":13,"x":26,"y":10},{"c":13,"x":29,"y":4},{"c":13,"x":33,"y":1},{"c":13,"x":37,"y":0},
{"c":14,"x":0,"y":100},{"c":14,"x":4,"y":99},{"c":14,"x":7,"y":94},{"c":14,"x":9,"y":85},{"c":14,"x":11,"y":74},{"c":14,"x":13,"y":62},{"c":14,"x":15,"y":52},{"c":14,"x":18,"y":40},{"c":14,"x":21,"y":30},{"c":14,"x":25,"y":20},{"c":14,"x":30,"y":12},{"c":14,"x":35,"y":7},{"c":14,"x":40,"y":4},{"c":14,"x":48,"y":1},{"c":14,"x":55,"y":0},
{"c":15,"x":0,"y":100},{"c":15,"x":7,"y":100},{"c":15,"x":10,"y":97},{"c":15,"x":12,"y":92},{"c":15,"x":14,"y":82},{"c":15,"x":16,"y":68},{"c":15,"x":18,"y":54},{"c":15,"x":21,"y":40},{"c":15,"x":24,"y":28},{"c":15,"x":28,"y":17},{"c":15,"x":32,"y":9},{"c":15,"x":37,"y":4},{"c":15,"x":43,"y":1.5},{"c":15,"x":50,"y":0.3},{"c":15,"x":56,"y":0},
{"c":16,"x":0,"y":100},{"c":16,"x":10,"y":100},{"c":16,"x":13,"y":97},{"c":16,"x":16,"y":90},{"c":16,"x":19,"y":82},{"c":16,"x":21,"y":75},{"c":16,"x":23,"y":68},{"c":16,"x":25,"y":58},{"c":16,"x":27,"y":45},{"c":16,"x":29,"y":32},{"c":16,"x":31,"y":20},{"c":16,"x":34,"y":10},{"c":16,"x":38,"y":4},{"c":16,"x":43,"y":1},{"c":16,"x":48,"y":0},
{"c":17,"x":0,"y":100},{"c":17,"x":8,"y":100},{"c":17,"x":11,"y":97},{"c":17,"x":14,"y":88},{"c":17,"x":17,"y":80},{"c":17,"x":20,"y":72},{"c":17,"x":23,"y":62},{"c":17,"x":26,"y":50},{"c":17,"x":29,"y":40},{"c":17,"x":33,"y":30},{"c":17,"x":37,"y":22},{"c":17,"x":42,"y":14},{"c":17,"x":47,"y":8},{"c":17,"x":53,"y":4},{"c":17,"x":60,"y":1.5},{"c":17,"x":68,"y":0.3},{"c":17,"x":75,"y":0},
{"c":18,"x":0,"y":100},{"c":18,"x":6,"y":100},{"c":18,"x":9,"y":98},{"c":18,"x":12,"y":94},{"c":18,"x":15,"y":86},{"c":18,"x":18,"y":74},{"c":18,"x":21,"y":62},{"c":18,"x":24,"y":50},{"c":18,"x":27,"y":38},{"c":18,"x":31,"y":26},{"c":18,"x":35,"y":17},{"c":18,"x":40,"y":10},{"c":18,"x":46,"y":5},{"c":18,"x":52,"y":2},{"c":18,"x":60,"y":0.5},{"c":18,"x":66,"y":0},
{"c":19,"x":0,"y":100},{"c":19,"x":3,"y":99},{"c":19,"x":5,"y":95},{"c":19,"x":7,"y":88},{"c":19,"x":9,"y":78},{"c":19,"x":11,"y":66},{"c":19,"x":13,"y":55},{"c":19,"x":15,"y":45},{"c":19,"x":17,"y":35},{"c":19,"x":20,"y":22},{"c":19,"x":23,"y":12},{"c":19,"x":26,"y":5},{"c":19,"x":29,"y":1},{"c":19,"x":32,"y":0},
{"c":20,"x":0,"y":100},{"c":20,"x":7,"y":99},{"c":20,"x":10,"y":95},{"c":20,"x":12,"y":88},{"c":20,"x":14,"y":78},{"c":20,"x":16,"y":66},{"c":20,"x":18,"y":55},{"c":20,"x":20,"y":45},{"c":20,"x":22,"y":36},{"c":20,"x":25,"y":26},{"c":20,"x":28,"y":18},{"c":20,"x":32,"y":11},{"c":20,"x":36,"y":7},{"c":20,"x":41,"y":4},{"c":20,"x":47,"y":2},{"c":20,"x":55,"y":0.5},{"c":20,"x":62,"y":0},
{"c":21,"x":0,"y":100},{"c":21,"x":10,"y":100},{"c":21,"x":12,"y":96},{"c":21,"x":14,"y":89},{"c":21,"x":16,"y":80},{"c":21,"x":18,"y":70},{"c":21,"x":20,"y":60},{"c":21,"x":22,"y":48},{"c":21,"x":24,"y":36},{"c":21,"x":26,"y":24},{"c":21,"x":28,"y":14},{"c":21,"x":30,"y":7},{"c":21,"x":33,"y":2},{"c":21,"x":36,"y":0},
{"c":22,"x":0,"y":100},{"c":22,"x":5,"y":100},{"c":22,"x":8,"y":97},{"c":22,"x":10,"y":92},{"c":22,"x":13,"y":82},{"c":22,"x":16,"y":74},{"c":22,"x":19,"y":68},{"c":22,"x":22,"y":62},{"c":22,"x":26,"y":56},{"c":22,"x":30,"y":50},{"c":22,"x":34,"y":42},{"c":22,"x":38,"y":34},{"c":22,"x":42,"y":27},{"c":22,"x":46,"y":22},{"c":22,"x":50,"y":18},{"c":22,"x":55,"y":15},{"c":22,"x":60,"y":12},{"c":22,"x":65,"y":10},{"c":22,"x":70,"y":8},{"c":22,"x":75,"y":6},{"c":22,"x":80,"y":4},{"c":22,"x":85,"y":2},{"c":22,"x":90,"y":0.5},{"c":22,"x":95,"y":0}
],
"es":[
{"c":0,"x":31,"y":0},{"c":0,"x":95,"y":0},
{"c":1,"x":0,"y":100},{"c":1,"x":50.4,"y":100},{"c":1,"x":52,"y":97},{"c":1,"x":54.6,"y":84.5},{"c":1,"x":58,"y":65.8},{"c":1,"x":60.8,"y":44},{"c":1,"x":63.6,"y":24},{"c":1,"x":67,"y":11},{"c":1,"x":69.8,"y":1},{"c":1,"x":71,"y":0},
{"c":2,"x":0,"y":100},{"c":2,"x":1.4,"y":96},{"c":2,"x":3.8,"y":84.5},{"c":2,"x":9.7,"y":74},{"c":2,"x":16.6,"y":61.5},{"c":2,"x":22.8,"y":50},{"c":2,"x":29.7,"y":37},{"c":2,"x":36.6,"y":24},{"c":2,"x":43.5,"y":12.6},{"c":2,"x":49,"y":4},{"c":2,"x":54.6,"y":0},
{"c":3,"x":0,"y":100},{"c":3,"x":3,"y":100},{"c":3,"x":4.8,"y":96},{"c":3,"x":6.9,"y":76},{"c":3,"x":9,"y":59},{"c":3,"x":12.4,"y":38.5},{"c":3,"x":15.9,"y":18.4},{"c":3,"x":20,"y":11},{"c":3,"x":25.6,"y":4},{"c":3,"x":31,"y":1},{"c":3,"x":35,"y":0},
{"c":4,"x":0,"y":100},{"c":4,"x":1.5,"y":99},{"c":4,"x":3.5,"y":86},{"c":4,"x":6.2,"y":79.5},{"c":4,"x":13,"y":70},{"c":4,"x":20,"y":61.5},{"c":4,"x":27,"y":47},{"c":4,"x":30,"y":38},{"c":4,"x":32.5,"y":24},{"c":4,"x":33.5,"y":8},{"c":4,"x":34,"y":0},
{"c":5,"x":0,"y":100},{"c":5,"x":25,"y":100},{"c":5,"x":30,"y":98},{"c":5,"x":36,"y":94},{"c":5,"x":41,"y":88},{"c":5,"x":46,"y":76},{"c":5,"x":53,"y":64},{"c":5,"x":60,"y":47},{"c":5,"x":65,"y":34},{"c":5,"x":72,"y":20},{"c":5,"x":79.5,"y":7},{"c":5,"x":84,"y":2},{"c":5,"x":89,"y":0},
{"c":6,"x":0,"y":100},{"c":6,"x":5,"y":100},{"c":6,"x":8,"y":97},{"c":6,"x":11,"y":93},{"c":6,"x":15,"y":88},{"c":6,"x":19,"y":80},{"c":6,"x":22,"y":72},{"c":6,"x":25,"y":62},{"c":6,"x":28,"y":50},{"c":6,"x":30,"y":38},{"c":6,"x":32,"y":20},{"c":6,"x":33,"y":5},{"c":6,"x":34,"y":0},
{"c":7,"x":0,"y":100},{"c":7,"x":8,"y":100},{"c":7,"x":10,"y":98},{"c":7,"x":13,"y":92},{"c":7,"x":16,"y":84},{"c":7,"x":19,"y":76},{"c":7,"x":22,"y":68},{"c":7,"x":26,"y":58},{"c":7,"x":30,"y":48},{"c":7,"x":34,"y":38},{"c":7,"x":38,"y":28},{"c":7,"x":42,"y":18},{"c":7,"x":46,"y":10},{"c":7,"x":50,"y":5},{"c":7,"x":54,"y":1},{"c":7,"x":56,"y":0},
{"c":8,"x":0,"y":100},{"c":8,"x":10,"y":100},{"c":8,"x":13,"y":96},{"c":8,"x":16,"y":90},{"c":8,"x":20,"y":82},{"c":8,"x":24,"y":74},{"c":8,"x":28,"y":66},{"c":8,"x":32,"y":58},{"c":8,"x":36,"y":48},{"c":8,"x":40,"y":38},{"c":8,"x":44,"y":27},{"c":8,"x":48,"y":16},{"c":8,"x":52,"y":8},{"c":8,"x":56,"y":2},{"c":8,"x":59,"y":0},
{"c":9,"x":0,"y":100},{"c":9,"x":7,"y":100},{"c":9,"x":10,"y":97},{"c":9,"x":14,"y":90},{"c":9,"x":18,"y":80},{"c":9,"x":21,"y":70},{"c":9,"x":24,"y":60},{"c":9,"x":27,"y":52},{"c":9,"x":30,"y":45},{"c":9,"x":34,"y":38},{"c":9,"x":38,"y":30},{"c":9,"x":42,"y":22},{"c":9,"x":46,"y":14},{"c":9,"x":50,"y":7},{"c":9,"x":53,"y":2},{"c":9,"x":56,"y":0},
{"c":10,"x":0,"y":100},{"c":10,"x":19,"y":100},{"c":10,"x":22,"y":96},{"c":10,"x":26,"y":90},{"c":10,"x":30,"y":82},{"c":10,"x":35,"y":72},{"c":10,"x":40,"y":62},{"c":10,"x":44,"y":52},{"c":10,"x":47,"y":42},{"c":10,"x":50,"y":30},{"c":10,"x":52,"y":18},{"c":10,"x":54,"y":8},{"c":10,"x":56,"y":2},{"c":10,"x":58,"y":0},
{"c":11,"x":0,"y":100},{"c":11,"x":26,"y":100},{"c":11,"x":30,"y":96},{"c":11,"x":35,"y":90},{"c":11,"x":40,"y":86},{"c":11,"x":44,"y":82},{"c":11,"x":46,"y":76},{"c":11,"x":48,"y":62},{"c":11,"x":50,"y":45},{"c":11,"x":52,"y":30},{"c":11,"x":55,"y":15},{"c":11,"x":58,"y":6},{"c":11,"x":62,"y":1},{"c":11,"x":65,"y":0},
{"c":12,"x":0,"y":100},{"c":12,"x":12,"y":100},{"c":12,"x":15,"y":95},{"c":12,"x":18,"y":88},{"c":12,"x":22,"y":80},{"c":12,"x":26,"y":74},{"c":12,"x":30,"y":68},{"c":12,"x":35,"y":62},{"c":12,"x":40,"y":56},{"c":12,"x":45,"y":48},{"c":12,"x":50,"y":38},{"c":12,"x":55,"y":28},{"c":12,"x":60,"y":18},{"c":12,"x":64,"y":12},{"c":12,"x":68,"y":7},{"c":12,"x":72,"y":3},{"c":12,"x":76,"y":1},{"c":12,"x":80,"y":0},
{"c":13,"x":0,"y":100},{"c":13,"x":14,"y":100},{"c":13,"x":17,"y":92},{"c":13,"x":20,"y":84},{"c":13,"x":24,"y":72},{"c":13,"x":28,"y":60},{"c":13,"x":32,"y":50},{"c":13,"x":36,"y":42},{"c":13,"x":40,"y":37},{"c":13,"x":45,"y":33},{"c":13,"x":50,"y":28},{"c":13,"x":55,"y":22},{"c":13,"x":60,"y":17},{"c":13,"x":65,"y":12},{"c":13,"x":70,"y":8},{"c":13,"x":75,"y":4},{"c":13,"x":80,"y":1.5},{"c":13,"x":84,"y":0},
{"c":14,"x":0,"y":100},{"c":14,"x":6,"y":100},{"c":14,"x":9,"y":96},{"c":14,"x":12,"y":91},{"c":14,"x":16,"y":86},{"c":14,"x":20,"y":80},{"c":14,"x":24,"y":70},{"c":14,"x":28,"y":58},{"c":14,"x":31,"y":46},{"c":14,"x":34,"y":34},{"c":14,"x":37,"y":22},{"c":14,"x":40,"y":13},{"c":14,"x":43,"y":6},{"c":14,"x":46,"y":2},{"c":14,"x":49,"y":0},
{"c":15,"x":0,"y":100},{"c":15,"x":20,"y":100},{"c":15,"x":24,"y":97},{"c":15,"x":28,"y":93},{"c":15,"x":32,"y":88},{"c":15,"x":36,"y":82},{"c":15,"x":40,"y":75},{"c":15,"x":43,"y":70},{"c":15,"x":45,"y":64},{"c":15,"x":47,"y":52},{"c":15,"x":49,"y":38},{"c":15,"x":51,"y":24},{"c":15,"x":53,"y":12},{"c":15,"x":55,"y":4},{"c":15,"x":57,"y":0},
{"c":16,"x":0,"y":100},{"c":16,"x":27,"y":100},{"c":16,"x":30,"y":97},{"c":16,"x":34,"y":93},{"c":16,"x":38,"y":88},{"c":16,"x":42,"y":80},{"c":16,"x":46,"y":72},{"c":16,"x":50,"y":62},{"c":16,"x":54,"y":52},{"c":16,"x":58,"y":40},{"c":16,"x":62,"y":28},{"c":16,"x":66,"y":17},{"c":16,"x":70,"y":9},{"c":16,"x":74,"y":4},{"c":16,"x":78,"y":1},{"c":16,"x":82,"y":0},
{"c":17,"x":0,"y":100},{"c":17,"x":9,"y":100},{"c":17,"x":12,"y":95},{"c":17,"x":15,"y":88},{"c":17,"x":18,"y":80},{"c":17,"x":21,"y":70},{"c":17,"x":24,"y":58},{"c":17,"x":27,"y":46},{"c":17,"x":30,"y":34},{"c":17,"x":33,"y":22},{"c":17,"x":36,"y":12},{"c":17,"x":39,"y":5},{"c":17,"x":42,"y":1},{"c":17,"x":44,"y":0},
{"c":18,"x":0,"y":100},{"c":18,"x":11,"y":100},{"c":18,"x":14,"y":96},{"c":18,"x":18,"y":86},{"c":18,"x":22,"y":74},{"c":18,"x":26,"y":62},{"c":18,"x":30,"y":52},{"c":18,"x":34,"y":43},{"c":18,"x":38,"y":36},{"c":18,"x":42,"y":30},{"c":18,"x":46,"y":24},{"c":18,"x":50,"y":18},{"c":18,"x":54,"y":12},{"c":18,"x":58,"y":7},{"c":18,"x":62,"y":3},{"c":18,"x":66,"y":1},{"c":18,"x":70,"y":0},
{"c":19,"x":0,"y":100},{"c":19,"x":18,"y":100},{"c":19,"x":21,"y":98},{"c":19,"x":24,"y":96},{"c":19,"x":28,"y":90},{"c":19,"x":32,"y":80},{"c":19,"x":36,"y":70},{"c":19,"x":40,"y":60},{"c":19,"x":44,"y":50},{"c":19,"x":48,"y":40},{"c":19,"x":52,"y":30},{"c":19,"x":56,"y":22},{"c":19,"x":60,"y":15},{"c":19,"x":64,"y":10},{"c":19,"x":68,"y":6},{"c":19,"x":72,"y":3},{"c":19,"x":76,"y":1},{"c":19,"x":80,"y":0},
{"c":20,"x":0,"y":100},{"c":20,"x":4,"y":100},{"c":20,"x":6,"y":96},{"c":20,"x":9,"y":90},{"c":20,"x":12,"y":83},{"c":20,"x":16,"y":74},{"c":20,"x":20,"y":62},{"c":20,"x":23,"y":52},{"c":20,"x":26,"y":44},{"c":20,"x":29,"y":36},{"c":20,"x":32,"y":28},{"c":20,"x":35,"y":20},{"c":20,"x":38,"y":12},{"c":20,"x":41,"y":5},{"c":20,"x":44,"y":1},{"c":20,"x":46,"y":0},
{"c":21,"x":0,"y":100},{"c":21,"x":30,"y":100},{"c":21,"x":34,"y":95},{"c":21,"x":38,"y":90},{"c":21,"x":42,"y":84},{"c":21,"x":45,"y":76},{"c":21,"x":48,"y":66},{"c":21,"x":51,"y":56},{"c":21,"x":54,"y":46},{"c":21,"x":57,"y":36},{"c":21,"x":60,"y":27},{"c":21,"x":63,"y":19},{"c":21,"x":66,"y":13},{"c":21,"x":70,"y":8},{"c":21,"x":74,"y":4},{"c":21,"x":78,"y":1.5},{"c":21,"x":82,"y":0.3},{"c":21,"x":86,"y":0},
{"c":22,"x":0,"y":100},{"c":22,"x":1,"y":97},{"c":22,"x":3,"y":90},{"c":22,"x":6,"y":82},{"c":22,"x":10,"y":76},{"c":22,"x":14,"y":68},{"c":22,"x":18,"y":60},{"c":22,"x":22,"y":52},{"c":22,"x":26,"y":44},{"c":22,"x":30,"y":36},{"c":22,"x":34,"y":29},{"c":22,"x":38,"y":22},{"c":22,"x":42,"y":15},{"c":22,"x":46,"y":9},{"c":22,"x":50,"y":4},{"c":22,"x":54,"y":1},{"c":22,"x":57,"y":0}
]
},
"concat":[
{"width":568,"height":241,"layer":[
{"data":{"name":"one"},"mark":{"type":"rect","filled":false,"stroke":"#6e6e6e","strokeWidth":1.3,"cornerRadius":16},"encoding":{"x":{"datum":-11.52},"x2":{"datum":266.96},"y":{"datum":116.88},"y2":{"datum":-320.1}}},
{"data":{"name":"one"},"mark":{"type":"rect","fill":"#2e2e2e","stroke":"#555555","strokeWidth":1},"encoding":{"x":{"datum":-6.957},"x2":{"datum":123.48},"y":{"datum":109.9},"y2":{"datum":-16.14}}},
{"data":{"name":"one"},"mark":{"type":"rect","fill":"#000000"},"encoding":{"x":{"datum":-6.957},"x2":{"datum":123.04},"y":{"datum":109.9},"y2":{"datum":-15.26}}},
{"data":{"name":"ptv"},"mark":{"type":"line"},"encoding":{
"x":{"field":"x","type":"quantitative","scale":{"domain":[-1.304,122.17],"nice":false,"zero":false},"axis":{"zindex":1,"values":[0,10,20,30,40,50,60,70,80,90,100,110,120],"labelExpr":"datum.value>=120?'':format(datum.value,'.1f')","title":"Relative Dose (%)"}},
"y":{"field":"y","type":"quantitative","scale":{"domain":[-2.62,102.49],"nice":false,"zero":false},"axis":{"zindex":1,"values":[0,20,40,60,80,100],"labelExpr":"datum.value>=100?'':format(datum.value,'.1f')","title":"Relative Volume (%)"}},
"detail":{"field":"c","type":"nominal"}}},
{"data":{"name":"one"},"mark":{"type":"text","text":"PTV","font":"Liberation Sans","fontSize":29,"color":"#ffc000","align":"left","baseline":"alphabetic"},"encoding":{"x":{"datum":6.74},"y":{"datum":73.27}}}
]},
{"width":553,"height":231,"layer":[
{"data":{"name":"one"},"mark":{"type":"rect","fill":"#2e2e2e","stroke":"#555555","strokeWidth":1},"encoding":{"x":{"datum":-6.52},"x2":{"datum":88.55},"y":{"datum":109.94},"y2":{"datum":-22.91}}},
{"data":{"name":"one"},"mark":{"type":"rect","fill":"#000000"},"encoding":{"x":{"datum":-6.52},"x2":{"datum":87.12},"y":{"datum":109.94},"y2":{"datum":-18.39}}},
{"data":{"name":"sc"},"mark":{"type":"line"},"encoding":{
"x":{"field":"x","type":"quantitative","scale":{"domain":[-1.59,86.33],"nice":false,"zero":false},"axis":{"zindex":1,"values":[0,10,20,30,40,50,60,70,80],"labelExpr":"datum.value>=80?'':format(datum.value,'.1f')","title":"Relative Dose (%)"}},
"y":{"field":"y","type":"quantitative","scale":{"domain":[-2.12,102.26],"nice":false,"zero":false},"axis":{"zindex":1,"values":[0,20,40,60,80,100],"labelExpr":"datum.value>=100?'':format(datum.value,'.1f')","title":"Relative Volume (%)"}},
"detail":{"field":"c","type":"nominal"}}},
{"data":{"name":"one"},"mark":{"type":"text","text":"Spinal cord","font":"Liberation Sans","fontSize":29,"color":"#ffc000","align":"left","baseline":"alphabetic"},"encoding":{"x":{"datum":44.5},"y":{"datum":82.4}}}
]},
{"width":558,"height":228,"layer":[
{"data":{"name":"one"},"mark":{"type":"rect","fill":"#2e2e2e","stroke":"#555555","strokeWidth":1},"encoding":{"x":{"datum":-8.22},"x2":{"datum":124.89},"y":{"datum":107.65},"y2":{"datum":-23.36}}},
{"data":{"name":"one"},"mark":{"type":"rect","fill":"#000000"},"encoding":{"x":{"datum":-8.22},"x2":{"datum":123.33},"y":{"datum":107.65},"y2":{"datum":-20.16}}},
{"data":{"name":"lv"},"mark":{"type":"line"},"encoding":{
"x":{"field":"x","type":"quantitative","scale":{"domain":[-2.444,121.556],"nice":false,"zero":false},"axis":{"zindex":1,"values":[0,10,20,30,40,50,60,70,80,90,100,110,120],"labelExpr":"datum.value>=120?'':format(datum.value,'.1f')","title":"Relative Dose (%)"}},
"y":{"field":"y","type":"quantitative","scale":{"domain":[-2.75,101.7],"nice":false,"zero":false},"axis":{"zindex":1,"values":[0,20,40,60,80,100],"labelExpr":"datum.value>=100?'':format(datum.value,'.1f')","title":"Relative Volume (%)"}},
"detail":{"field":"c","type":"nominal"}}},
{"data":{"name":"one"},"mark":{"type":"text","text":"Normal liver","font":"Liberation Sans","fontSize":29,"color":"#ffc000","align":"left","baseline":"alphabetic"},"encoding":{"x":{"datum":46.9},"y":{"datum":85.8}}}
]},
{"width":553,"height":233,"layer":[
{"data":{"name":"one"},"mark":{"type":"rect","fill":"#2e2e2e","stroke":"#555555","strokeWidth":1},"encoding":{"x":{"datum":-6.35},"x2":{"datum":112.32},"y":{"datum":107.56},"y2":{"datum":-22.67}}},
{"data":{"name":"one"},"mark":{"type":"rect","fill":"#000000"},"encoding":{"x":{"datum":-6.35},"x2":{"datum":110.54},"y":{"datum":107.56},"y2":{"datum":-18.22}}},
{"data":{"name":"rk"},"mark":{"type":"line"},"encoding":{
"x":{"field":"x","type":"quantitative","scale":{"domain":[-0.198,109.545],"nice":false,"zero":false},"axis":{"zindex":1,"values":[0,10,20,30,40,50,60,70,80,90,100],"labelExpr":"datum.value>=100?'':format(datum.value,'.1f')","title":"Relative Dose (%)"}},
"y":{"field":"y","type":"quantitative","scale":{"domain":[-2.22,101.33],"nice":false,"zero":false},"axis":{"zindex":1,"values":[0,20,40,60,80,100],"labelExpr":"datum.value>=100?'':format(datum.value,'.1f')","title":"Relative Volume (%)"}},
"detail":{"field":"c","type":"nominal"}}},
{"data":{"name":"one"},"mark":{"type":"text","text":"Right kidney","font":"Liberation Sans","fontSize":29,"color":"#ffc000","align":"left","baseline":"alphabetic"},"encoding":{"x":{"datum":45.2},"y":{"datum":85.9}}}
]},
{"width":557,"height":245,"layer":[
{"data":{"name":"one"},"mark":{"type":"rect","fill":"#2e2e2e","stroke":"#555555","strokeWidth":1},"encoding":{"x":{"datum":-5.88},"x2":{"datum":104.88},"y":{"datum":107.42},"y2":{"datum":-22.8}}},
{"data":{"name":"one"},"mark":{"type":"rect","fill":"#000000"},"encoding":{"x":{"datum":-5.88},"x2":{"datum":103.03},"y":{"datum":107.42},"y2":{"datum":-18.36}}},
{"data":{"name":"st"},"mark":{"type":"line"},"encoding":{
"x":{"field":"x","type":"quantitative","scale":{"domain":[-1.0725,101.92],"nice":false,"zero":false},"axis":{"zindex":1,"values":[0,10,20,30,40,50,60,70,80,90,100],"labelExpr":"datum.value>=100?'':format(datum.value,'.1f')","title":"Relative Dose (%)"}},
"y":{"field":"y","type":"quantitative","scale":{"domain":[-1.91,106.98],"nice":false,"zero":false},"axis":{"zindex":1,"values":[0,20,40,60,80,100],"labelExpr":"datum.value>=100?'':format(datum.value,'.1f')","title":"Relative Volume (%)"}},
"detail":{"field":"c","type":"nominal"}}},
{"data":{"name":"one"},"mark":{"type":"text","text":"Stomach","font":"Liberation Sans","fontSize":29,"color":"#ffc000","align":"left","baseline":"alphabetic"},"encoding":{"x":{"datum":42.3},"y":{"datum":70.4}}},
{"data":{"name":"one"},"mark":{"type":"text","text":"Figure 3","font":"Open Sans","fontWeight":"bold","fontSize":20,"color":"#231f20","align":"left","baseline":"alphabetic"},"encoding":{"x":{"datum":-6.62},"y":{"datum":-37.47}}},
{"data":{"name":"one"},"mark":{"type":"text","text":"The DVH for the population of 45 training patients for the PTV and OARs.","font":"Open Sans","fontWeight":500,"fontSize":20.3,"color":"#231f20","align":"left","baseline":"alphabetic"},"encoding":{"x":{"datum":9.1},"y":{"datum":-37.47}}}
]},
{"width":553,"height":242,"layer":[
{"data":{"name":"one"},"mark":{"type":"rect","fill":"#2e2e2e","stroke":"#555555","strokeWidth":1},"encoding":{"x":{"datum":-7.26},"x2":{"datum":98.58},"y":{"datum":102.89},"y2":{"datum":-23.41}}},
{"data":{"name":"one"},"mark":{"type":"rect","fill":"#000000"},"encoding":{"x":{"datum":-7.26},"x2":{"datum":96.99},"y":{"datum":102.89},"y2":{"datum":-19.09}}},
{"data":{"name":"es"},"mark":{"type":"line"},"encoding":{
"x":{"field":"x","type":"quantitative","scale":{"domain":[-1.77,96.106],"nice":false,"zero":false},"axis":{"zindex":1,"values":[0,10,20,30,40,50,60,70,80,90],"labelExpr":"datum.value>=90?'':format(datum.value,'.1f')","title":"Relative Dose (%)"}},
"y":{"field":"y","type":"quantitative","scale":{"domain":[-1.85,102.46],"nice":false,"zero":false},"axis":{"zindex":1,"values":[0,20,40,60,80,100],"labelExpr":"datum.value>=100?'':format(datum.value,'.1f')","title":"Relative Volume (%)"}},
"detail":{"field":"c","type":"nominal"}}},
{"data":{"name":"one"},"mark":{"type":"text","text":"Esophagus","font":"Liberation Sans","fontSize":29,"color":"#ffc000","align":"left","baseline":"alphabetic"},"encoding":{"x":{"datum":62.6},"y":{"datum":82.3}}}
]}
]
}
